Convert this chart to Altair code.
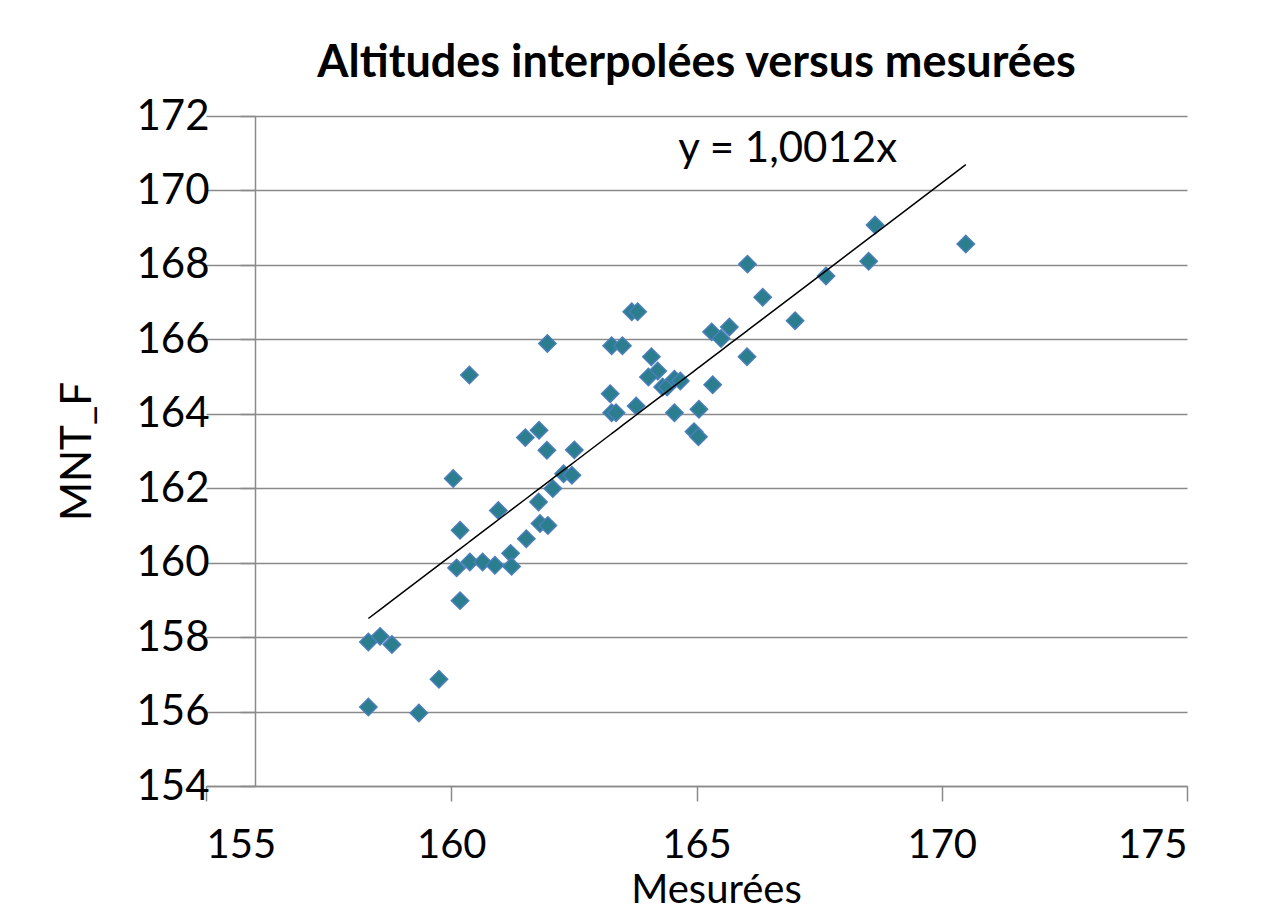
import altair as alt
import pandas as pd

mesurees = [158.31, 158.55, 158.79, 158.31, 159.75, 159.34, 160.04, 160.18, 160.11, 160.18,
            160.37, 160.38, 160.64, 160.89, 160.96, 161.21, 161.23, 161.51, 161.53, 161.79,
            161.78, 161.81, 161.97, 161.95, 161.96, 162.07, 162.29, 162.46, 162.51, 163.27,
            163.49, 163.24, 163.27, 163.36, 163.68, 163.80, 163.77, 164.08, 164.21, 164.02,
            164.31, 164.40, 164.55, 164.67, 164.55, 165.05, 164.95, 165.04, 165.31, 165.67,
            165.50, 165.33, 166.03, 166.04, 166.35, 167.01, 167.64, 168.51, 168.64, 170.49]
mnt_f = [157.87, 158.02, 157.80, 156.12, 156.87, 155.96, 162.26, 160.87, 159.86, 158.98,
         165.04, 160.02, 160.02, 159.93, 161.40, 160.25, 159.90, 163.36, 160.64, 163.56,
         161.63, 161.05, 161.00, 163.02, 165.89, 161.99, 162.39, 162.35, 163.03, 165.83,
         165.83, 164.54, 164.03, 164.03, 166.74, 166.74, 164.21, 165.53, 165.15, 164.99,
         164.72, 164.72, 164.93, 164.88, 164.03, 164.12, 163.52, 163.38, 166.20, 166.33,
         166.02, 164.78, 165.53, 168.02, 167.13, 166.50, 167.70, 168.10, 169.07, 168.56]

slope = 1.0012
eq_label = ["y = 1,0012x"]
eq_x = [166.86]
eq_y = [170.77]

x_ticks = [155, 160, 165, 170, 175]
y_ticks = [154, 156, 158, 160, 162, 164, 166, 168, 170, 172]

df = pd.DataFrame({"Mesurées": mesurees, "MNT_F": mnt_f})
ann = pd.DataFrame({"x": eq_x, "y": eq_y, "label": eq_label})

FONT = "Lato"
GRID = "#8a8a8a"
FS = 42

xscale = alt.Scale(domain=[155, 175], nice=False, zero=False)
yscale = alt.Scale(domain=[154, 172], nice=False, zero=False)

x_enc = alt.X(
    "Mesurées:Q", scale=xscale,
    axis=alt.Axis(values=x_ticks, title="Mesurées", grid=False, domain=True,
                  domainColor=GRID, domainWidth=1.5, ticks=True, tickColor=GRID,
                  tickWidth=1.5, tickSize=15, labelFont=FONT, labelFontSize=40,
                  labelColor="black", labelPadding=24, titleFont=FONT,
                  titleFontSize=40, titleFontWeight="normal", titleColor="black",
                  titlePadding=5, titleX=510),
)

points = alt.Chart(df).mark_point(
    shape="diamond", filled=True, size=300, fill="#2b7e8e",
    stroke="#4a7ebb", strokeWidth=1.5, opacity=1,
).encode(
    x=x_enc,
    y=alt.Y("MNT_F:Q", scale=yscale,
            axis=alt.Axis(orient="left", values=y_ticks, title="MNT_F", grid=True,
                          gridColor=GRID, gridWidth=1.5, domain=False, ticks=False,
                          labelFont=FONT, labelFontSize=FS, labelColor="black",
                          labelPadding=-3, titleFont=FONT, titleFontSize=FS,
                          titleFontWeight="normal", titleColor="black",
                          titlePadding=36)),
)

fit = alt.Chart(df).transform_calculate(
    fit=f"{slope} * datum['Mesurées']"
).mark_line(color="black", strokeWidth=1.5).encode(
    x=alt.X("Mesurées:Q", scale=xscale),
    y=alt.Y("fit:Q", scale=yscale,
            axis=alt.Axis(orient="left", offset=-49, values=y_ticks, labels=False,
                          title=None, grid=False, domain=True, domainColor=GRID,
                          domainWidth=1.5, ticks=True, tickColor=GRID, tickWidth=1.5,
                          tickSize=15)),
)

label = alt.Chart(ann).mark_text(
    font=FONT, fontSize=FS, color="black", align="center", baseline="alphabetic"
).encode(
    x=alt.X("x:Q", scale=xscale),
    y=alt.Y("y:Q", scale=yscale, axis=None),
    text="label:N",
)

chart = alt.layer(points, fit, label).resolve_axis(y="independent").properties(
    width=981, height=670,
    title=alt.TitleParams("Altitudes interpolées versus mesurées", font=FONT,
                          fontSize=45, fontWeight="bold", color="black",
                          anchor="middle", frame="group", offset=9),
    autosize=alt.AutoSizeParams(type="none"),
    padding={"left": 198, "top": 108, "right": 87, "bottom": 126},
).configure_view(stroke=None)

chart.save("out.html", embed_options={"renderer": "svg", "actions": False})
